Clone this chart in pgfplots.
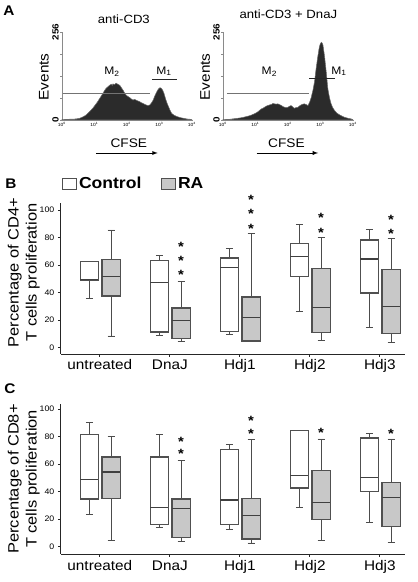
\documentclass[border=0pt]{standalone}
\usepackage{pgfplots}
\pgfplotsset{compat=1.18}
\usepgfplotslibrary{statistics}
\usepackage{fontspec}
\setmainfont{Liberation Sans}[FakeStretch=1.1]
\definecolor{ragray}{HTML}{C8C8C8}
\definecolor{edge}{HTML}{505050}
\definecolor{histfill}{HTML}{2B2B2B}
\definecolor{histedge}{HTML}{6A6A6A}
\definecolor{axgray}{HTML}{8A8A8A}

\pgfplotsset{
  histax/.style={scale only axis, width=130bp, height=88bp,
    xmin=0, xmax=4, ymin=0, ymax=256,
    axis x line=bottom, axis y line=left,
    x axis line style={-}, y axis line style={-},
    axis line style={axgray, line width=0.7pt},
    xtick={0,1,2,3,4}, xticklabels={10\textsuperscript{0},10\textsuperscript{1},10\textsuperscript{2},10\textsuperscript{3},10\textsuperscript{4}},
    ytick={0,64,128,192,256}, yticklabels={0,,,,256},
    tick align=outside, major tick length=1.5pt, tick style={axgray, line width=0.5pt},
    xticklabel style={font=\fontsize{4.5}{5}\selectfont, inner sep=1pt},
    yticklabel style={rotate=90, anchor=south, font=\fontsize{9}{10}\selectfont\bfseries, inner sep=1.5pt},
    clip=false,
    ylabel={Events}, ylabel style={font=\fontsize{14}{16}\selectfont, at={(axis description cs:-0.138,0.49)}, anchor=center},
  },
  boxax/.style={scale only axis, width=344bp,
    xmin=0.443, xmax=5.357,
    axis x line=bottom, axis y line=left,
    x axis line style={-}, y axis line style={-},
    axis line style={black!85, line width=0.9pt},
    xtick={1,2,3,4,5}, xticklabels={untreated,DnaJ,Hdj1,Hdj2,Hdj3},
    ytick={0,20,40,60,80,100},
    tick align=outside, major tick length=3bp, tick style={black!85, line width=0.8pt},
    xticklabel style={font=\fontsize{14}{16}\selectfont, anchor=base, yshift=-13bp},
    yticklabel style={font=\fontsize{8}{9}\selectfont},
    /pgf/number format/assume math mode=true,
    clip=false,
    ylabel style={font=\fontsize{15}{18}\selectfont, align=center, anchor=center},
    boxplot/draw direction=y,
    boxplot/box extend=0.26,
    boxplot/whisker extend=0.1,
    boxplot/every box/.style={draw=edge, line width=1.3pt},
    boxplot/every median/.style={draw=black!75, line width=1.1pt},
    boxplot/every whisker/.style={draw=black!70, line width=0.9pt},
  },
  ctrl/.style={draw=edge, fill=white},
  ra/.style={draw=edge, fill=ragray},
  stars/.style={draw=none, mark=none, nodes near coords={\bfseries*},
    every node near coord/.style={anchor=base, yshift=-8bp, font=\fontsize{13.5}{14}\selectfont, inner sep=0pt}},
}

\begin{document}
\begin{tikzpicture}[x=1bp,y=1bp]
\path (0,0) rectangle (416,582);

% panel letters
\node[font=\fontsize{14}{14}\selectfont\bfseries] at (7,571) {A};
\node[font=\fontsize{14}{14}\selectfont\bfseries] at (9,398) {B};
\node[font=\fontsize{14}{14}\selectfont\bfseries] at (8,193) {C};

% ---------- Panel A left ----------
\begin{axis}[histax, at={(60bp,462bp)}, anchor=south west,
  title={anti-CD3}, title style={font=\fontsize{12}{13}\selectfont, at={(axis description cs:0.477,1.03)}, anchor=base},
  xlabel={CFSE}, xlabel style={font=\fontsize{12.5}{14}\selectfont, at={(axis description cs:0.515,-0.307)}, anchor=base}]
\addplot[fill=histfill, draw=histedge, line width=0.5pt] coordinates {
(0,1) (0.2,2) (0.43,3) (0.55,5) (0.65,9) (0.74,14) (0.85,24) (0.95,34) (1.03,44) (1.1,53) (1.18,65) (1.26,77) (1.31,85) (1.36,92) (1.42,97) (1.47,101) (1.52,104) (1.55,100) (1.57,105) (1.62,103) (1.67,107) (1.72,104) (1.78,101) (1.83,94) (1.88,87) (1.93,79) (1.98,72) (2.04,68) (2.09,65) (2.14,61) (2.19,58) (2.24,60) (2.3,57) (2.35,55) (2.4,53) (2.45,50) (2.5,48) (2.56,45) (2.61,43) (2.66,42) (2.71,44) (2.76,50) (2.81,58) (2.86,70) (2.92,82) (2.97,90) (3.02,94) (3.06,92) (3.1,87) (3.14,78) (3.17,68) (3.22,53) (3.28,39) (3.33,28) (3.38,19) (3.45,14) (3.54,10) (3.64,7) (3.74,5) (3.85,3) (3.95,2) (4,1)
} \closedcycle;
\addplot[draw=black!55, line width=0.9pt] coordinates {(0.03,76) (2.71,76)};
\addplot[draw=black!85, line width=0.9pt] coordinates {(2.77,119) (3.54,119)};
\node[font=\fontsize{11}{12}\selectfont] at (axis cs:1.54,140) {M\textsubscript{2}};
\node[font=\fontsize{11}{12}\selectfont] at (axis cs:3.14,142) {M\textsubscript{1}};
\draw[-latex, line width=0.9pt] (axis cs:1.05,-96) -- (axis cs:2.95,-96);
\end{axis}

% ---------- Panel A right ----------
\begin{axis}[histax, at={(221bp,462bp)}, anchor=south west,
  title={anti-CD3 + DnaJ}, title style={font=\fontsize{12}{13}\selectfont, at={(axis description cs:0.504,1.09)}, anchor=base},
  xlabel={CFSE}, xlabel style={font=\fontsize{12.5}{14}\selectfont, at={(axis description cs:0.489,-0.307)}, anchor=base},
  ylabel style={at={(axis description cs:-0.137,0.49)}}]
\addplot[fill=histfill, draw=histedge, line width=0.5pt] coordinates {
(0,1) (0.2,2) (0.46,5) (0.6,7) (0.77,11) (0.87,14) (0.97,18) (1.03,21) (1.08,24) (1.13,28) (1.18,32) (1.23,34) (1.28,37) (1.33,40) (1.38,42) (1.44,44) (1.49,45) (1.54,48) (1.59,47) (1.64,46) (1.69,47) (1.74,45) (1.8,42) (1.85,39) (1.9,37) (1.95,36) (2.0,37) (2.05,40) (2.1,42) (2.15,38) (2.2,34) (2.25,36) (2.31,37) (2.36,41) (2.41,44) (2.46,46) (2.51,47) (2.56,45) (2.62,42) (2.67,52) (2.72,66) (2.77,86) (2.82,111) (2.87,150) (2.92,184) (2.97,213) (3.0,222) (3.03,226) (3.06,223) (3.08,218) (3.13,184) (3.18,140) (3.23,91) (3.28,65) (3.33,47) (3.38,36) (3.44,27) (3.51,20) (3.59,15) (3.67,11) (3.74,8) (3.85,5) (3.95,3) (4,1)
} \closedcycle;
\addplot[draw=black!55, line width=0.9pt] coordinates {(0.12,76) (2.66,76)};
\addplot[draw=black!85, line width=0.9pt] coordinates {(2.66,122) (3.46,122)};
\node[font=\fontsize{11}{12}\selectfont] at (axis cs:1.43,140) {M\textsubscript{2}};
\node[font=\fontsize{11}{12}\selectfont] at (axis cs:3.57,142) {M\textsubscript{1}};
\draw[-latex, line width=0.9pt] (axis cs:1.04,-96) -- (axis cs:2.93,-96);
\end{axis}

% ---------- Legend ----------
\draw[edge, line width=0.8pt, fill=white] (60.5,393) rectangle (74.5,404);
\node[font=\fontsize{16}{16}\selectfont\bfseries, anchor=base west, inner sep=0pt] at (77,393) {Control};
\draw[edge, line width=0.8pt, fill=ragray] (159.5,393) rectangle (173.5,404);
\node[font=\fontsize{16}{16}\selectfont\bfseries, anchor=base west, inner sep=0pt] at (176,393) {RA};

% ---------- Panel B ----------
\begin{axis}[boxax, at={(59bp,228bp)}, anchor=south west, height=151bp,
  ymin=-4.6, ymax=105.1,
  ylabel={Percentage of CD4+\\T cells proliferation},
  ylabel style={at={(axis description cs:-0.1076,0.54)}}]
\addplot[ctrl, boxplot prepared={draw position=0.85, lower whisker=36, lower quartile=49, median=49.6, upper quartile=62.5, upper whisker=62.5}] coordinates {};
\addplot[ra, boxplot prepared={draw position=1.16, lower whisker=8.5, lower quartile=37.5, median=51.6, upper quartile=64, upper whisker=85.5}] coordinates {};
\addplot[ctrl, boxplot prepared={draw position=1.85, lower whisker=8.7, lower quartile=11.4, median=47.2, upper quartile=63.2, upper whisker=66.8}] coordinates {};
\addplot[ra, boxplot prepared={draw position=2.16, lower whisker=4.4, lower quartile=6.8, median=19.6, upper quartile=28.8, upper whisker=48.4}] coordinates {};
\addplot[ctrl, boxplot prepared={draw position=2.85, lower whisker=9.4, lower quartile=11.6, median=58.4, upper quartile=65.1, upper whisker=71.9}] coordinates {};
\addplot[ra, boxplot prepared={draw position=3.16, lower whisker=4.4, lower quartile=4.8, median=22.0, upper quartile=36.8, upper whisker=82.8}] coordinates {};
\addplot[ctrl, boxplot prepared={draw position=3.85, lower whisker=26.4, lower quartile=51.6, median=66.3, upper quartile=75.8, upper whisker=89.3}] coordinates {};
\addplot[ra, boxplot prepared={draw position=4.16, lower whisker=5.1, lower quartile=11.1, median=29.3, upper quartile=57.4, upper whisker=80.1}] coordinates {};
\addplot[ctrl, boxplot prepared={draw position=4.85, lower whisker=14.8, lower quartile=39.7, median=64.4, upper quartile=78.2, upper whisker=86}] coordinates {};
\addplot[ra, boxplot prepared={draw position=5.16, lower whisker=3.9, lower quartile=10.4, median=30, upper quartile=56.9, upper whisker=79.2}] coordinates {};
\addplot[stars] coordinates {(2.16,75.8) (2.16,65.4) (2.16,55.2) (3.16,110) (3.16,99.5) (3.16,89) (4.16,96.4) (4.16,86) (5.16,95.6) (5.16,85.2)};
\end{axis}

% ---------- Panel C ----------
\begin{axis}[boxax, at={(59bp,28bp)}, anchor=south west, height=150bp,
  ymin=-5.3, ymax=103.6,
  ylabel={Percentage of CD8+\\T cells proliferation},
  ylabel style={at={(axis description cs:-0.1076,0.5)}}]
\addplot[ctrl, boxplot prepared={draw position=0.85, lower whisker=23.7, lower quartile=34.6, median=48.9, upper quartile=81.6, upper whisker=90.3}] coordinates {};
\addplot[ra, boxplot prepared={draw position=1.16, lower whisker=4.6, lower quartile=35.1, median=54.2, upper quartile=65.1, upper whisker=79.9}] coordinates {};
\addplot[ctrl, boxplot prepared={draw position=1.85, lower whisker=14, lower quartile=16, median=28.3, upper quartile=65.1, upper whisker=81.6}] coordinates {};
\addplot[ra, boxplot prepared={draw position=2.16, lower whisker=3.6, lower quartile=6.8, median=27.6, upper quartile=34.6, upper whisker=62.7}] coordinates {};
\addplot[ctrl, boxplot prepared={draw position=2.85, lower whisker=12.6, lower quartile=16.2, median=33.9, upper quartile=70.7, upper whisker=74}] coordinates {};
\addplot[ra, boxplot prepared={draw position=3.16, lower whisker=2.7, lower quartile=5.6, median=22.5, upper quartile=35.1, upper whisker=78}] coordinates {};
\addplot[ctrl, boxplot prepared={draw position=3.85, lower whisker=28.8, lower quartile=42.6, median=51.6, upper quartile=84.3, upper whisker=84.3}] coordinates {};
\addplot[ra, boxplot prepared={draw position=4.16, lower whisker=4.4, lower quartile=19.9, median=32.4, upper quartile=55.2, upper whisker=78.2}] coordinates {};
\addplot[ctrl, boxplot prepared={draw position=4.85, lower whisker=17.4, lower quartile=40, median=50.1, upper quartile=78.9, upper whisker=82.3}] coordinates {};
\addplot[ra, boxplot prepared={draw position=5.16, lower whisker=3.1, lower quartile=14.5, median=35.6, upper quartile=46.7, upper whisker=78.2}] coordinates {};
\addplot[stars] coordinates {(2.16,78.7) (2.16,69.5) (3.16,93.7) (3.16,84.3) (4.16,85.2) (5.16,84.3)};
\end{axis}
\end{tikzpicture}
\end{document}
